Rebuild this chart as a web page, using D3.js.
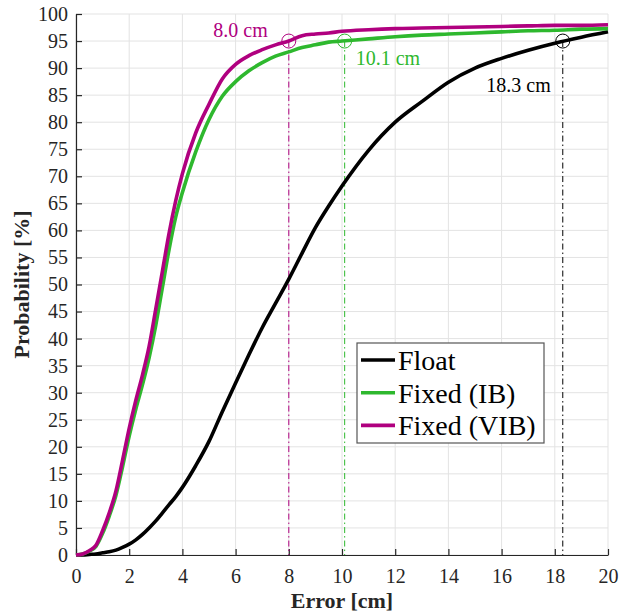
<!DOCTYPE html>
<html>
<head>
<meta charset="utf-8">
<script src="https://cdn.jsdelivr.net/npm/d3@7"></script>
</head>
<body style="margin:0">
<svg id="chart" width="619" height="615" style="font-family: 'Liberation Serif'"></svg>
<script>
// error grid [cm] shared by the three curves
var errGrid = [0, 0.25, 0.5, 0.75, 1, 1.25, 1.5, 1.75, 2, 2.25, 2.5, 2.75, 3, 3.25, 3.5, 3.75,
  4, 4.5, 5, 5.5, 6, 6.5, 7, 7.5, 8, 8.5, 9, 9.5, 10, 11, 12, 13, 14, 15, 16, 17, 18, 19, 20];

var floatProb = [0, 0, 0.1, 0.2, 0.4, 0.6, 0.9, 1.4, 2.0, 2.8, 3.8, 5.0, 6.3, 7.8, 9.3, 10.8,
  12.5, 16.5, 21, 26.5, 31.8, 37, 42, 46.5, 51, 55.8, 60.5, 64.5, 68.2, 74.8, 80, 83.8, 87.4, 90, 91.8, 93.3, 94.6, 95.7, 96.7];

var ibProb = [0, 0.2, 0.7, 1.6, 4, 7.2, 11, 16.3, 22, 27, 31.5, 36.5, 42.5, 49.5, 56.5, 62.5,
  67, 74.5, 80.5, 84.8, 87.5, 89.5, 91, 92.2, 93, 93.8, 94.3, 94.8, 95, 95.4, 95.8, 96.1, 96.3, 96.5, 96.7, 96.9, 97.0, 97.2, 97.3];

var vibProb = [0, 0.2, 0.8, 1.8, 4.5, 7.8, 11.8, 17.5, 23.4, 28.6, 33.3, 38.6, 45.5, 52.5, 59.5, 65.5,
  70.5, 78, 83.3, 88, 90.7, 92.3, 93.4, 94.3, 95, 96, 96.3, 96.5, 96.8, 97.1, 97.3, 97.4, 97.5, 97.6, 97.7, 97.8, 97.9, 97.9, 98];

var seriesNames = ["Float", "Fixed (IB)", "Fixed (VIB)"];
var seriesColors = ["#000000", "#2eb82e", "#b0007f"];

// 95% markers
var markErr = [18.3, 10.1, 8.0];
var markLabels = ["18.3 cm", "10.1 cm", "8.0 cm"];
var markLevel = 95;

var xTicks = d3.range(0, 21, 2);
var yTicks = d3.range(0, 101, 5);

var serif = "'Liberation Serif'";

var margin = {top: 14, right: 11, bottom: 60, left: 76};
var W = 619, H = 615;
var w = W - margin.left - margin.right;
var h = H - margin.top - margin.bottom;

var svg = d3.select("#chart");
var g = svg.append("g").attr("transform", "translate(" + margin.left + "," + margin.top + ")");

var x = d3.scaleLinear().domain([0, 20]).range([0, w]);
var y = d3.scaleLinear().domain([0, 100]).range([h, 0]);

// grid
g.append("g").selectAll("line").data(xTicks).enter().append("line")
  .attr("x1", function(d){ return x(d); }).attr("x2", function(d){ return x(d); })
  .attr("y1", 0).attr("y2", h)
  .attr("stroke", "#e3e3e3").attr("stroke-width", 1);
g.append("g").selectAll("line").data(yTicks).enter().append("line")
  .attr("y1", function(d){ return y(d); }).attr("y2", function(d){ return y(d); })
  .attr("x1", 0).attr("x2", w)
  .attr("stroke", "#e3e3e3").attr("stroke-width", 1);

// axes
var xAxis = g.append("g").attr("transform", "translate(0," + h + ")")
  .call(d3.axisBottom(x).tickValues(xTicks).tickSize(-6).tickPadding(14).tickSizeOuter(0));
var yAxis = g.append("g")
  .call(d3.axisLeft(y).tickValues(yTicks).tickSize(-6).tickPadding(8).tickSizeOuter(0));
[xAxis, yAxis].forEach(function(a){
  a.attr("font-family", null).attr("font-size", null);
  a.select(".domain").attr("stroke", "#262626").attr("stroke-width", 1.2);
  a.selectAll(".tick line").attr("stroke", "#262626").attr("stroke-width", 1.2);
  a.selectAll(".tick text").attr("fill", "#262626")
    .style("font-family", serif).style("font-size", "20px");
});

// marker drop lines
var markColors = [seriesColors[0], seriesColors[1], seriesColors[2]];
markErr.forEach(function(e, i){
  g.append("line")
    .attr("x1", x(e)).attr("x2", x(e))
    .attr("y1", y(markLevel)).attr("y2", y(0))
    .attr("stroke", markColors[i]).attr("stroke-width", 1)
    .attr("stroke-dasharray", "6,3,1.5,3");
});

// curves
var line = d3.line()
  .curve(d3.curveMonotoneX)
  .x(function(d){ return x(d[0]); })
  .y(function(d){ return y(d[1]); });
var allProb = [floatProb, ibProb, vibProb];
allProb.forEach(function(p, i){
  g.append("path")
    .datum(errGrid.map(function(e, k){ return [e, p[k]]; }))
    .attr("d", line)
    .attr("fill", "none")
    .attr("stroke", seriesColors[i])
    .attr("stroke-width", 3.6)
    .attr("stroke-linejoin", "round");
});

// circles + labels
markErr.forEach(function(e, i){
  g.append("circle")
    .attr("cx", x(e)).attr("cy", y(markLevel)).attr("r", 7)
    .attr("fill", "none").attr("stroke", markColors[i]).attr("stroke-width", 1);
});
var labelPos = [
  {dx: -12, dy: 51, anchor: "end"},
  {dx: 11, dy: 24, anchor: "start"},
  {dx: -21, dy: -4, anchor: "end"}
];
g.selectAll(".mark-label").data(markLabels).enter().append("text")
  .attr("class", "mark-label")
  .attr("x", function(t, i){ return x(markErr[i]) + labelPos[i].dx; })
  .attr("y", function(t, i){ return y(markLevel) + labelPos[i].dy; })
  .attr("text-anchor", function(t, i){ return labelPos[i].anchor; })
  .attr("fill", function(t, i){ return markColors[i]; })
  .style("font-family", serif).style("font-size", "20px")
  .text(function(t){ return t; });

// axis labels
svg.append("text")
  .attr("x", margin.left + w / 2).attr("y", 608)
  .attr("text-anchor", "middle")
  .style("font-family", serif).style("font-size", "22px").style("font-weight", "bold")
  .attr("fill", "#262626")
  .text("Error [cm]");
svg.append("text")
  .attr("transform", "translate(29," + (margin.top + h / 2) + ") rotate(-90)")
  .attr("text-anchor", "middle")
  .style("font-family", serif).style("font-size", "22px").style("font-weight", "bold")
  .attr("fill", "#262626")
  .text("Probability [%]");

// legend
var lg = svg.append("g").attr("transform", "translate(357,343)");
lg.append("rect").attr("width", 187).attr("height", 100)
  .attr("fill", "#fff").attr("stroke", "#555").attr("stroke-width", 1.2);
lg.selectAll(".leg-line").data(seriesNames).enter().append("line")
  .attr("class", "leg-line")
  .attr("x1", 4).attr("x2", 38)
  .attr("y1", function(n, i){ return 17 + i * 32.7; })
  .attr("y2", function(n, i){ return 17 + i * 32.7; })
  .attr("stroke", function(n, i){ return seriesColors[i]; }).attr("stroke-width", 3.6);
lg.selectAll(".leg-text").data(seriesNames).enter().append("text")
  .attr("class", "leg-text")
  .attr("x", 41)
  .attr("y", function(n, i){ return 27 + i * 32.7; })
  .style("font-family", serif).style("font-size", "28px")
  .attr("fill", "#000")
  .text(function(n){ return n; });
</script>
</body>
</html>
